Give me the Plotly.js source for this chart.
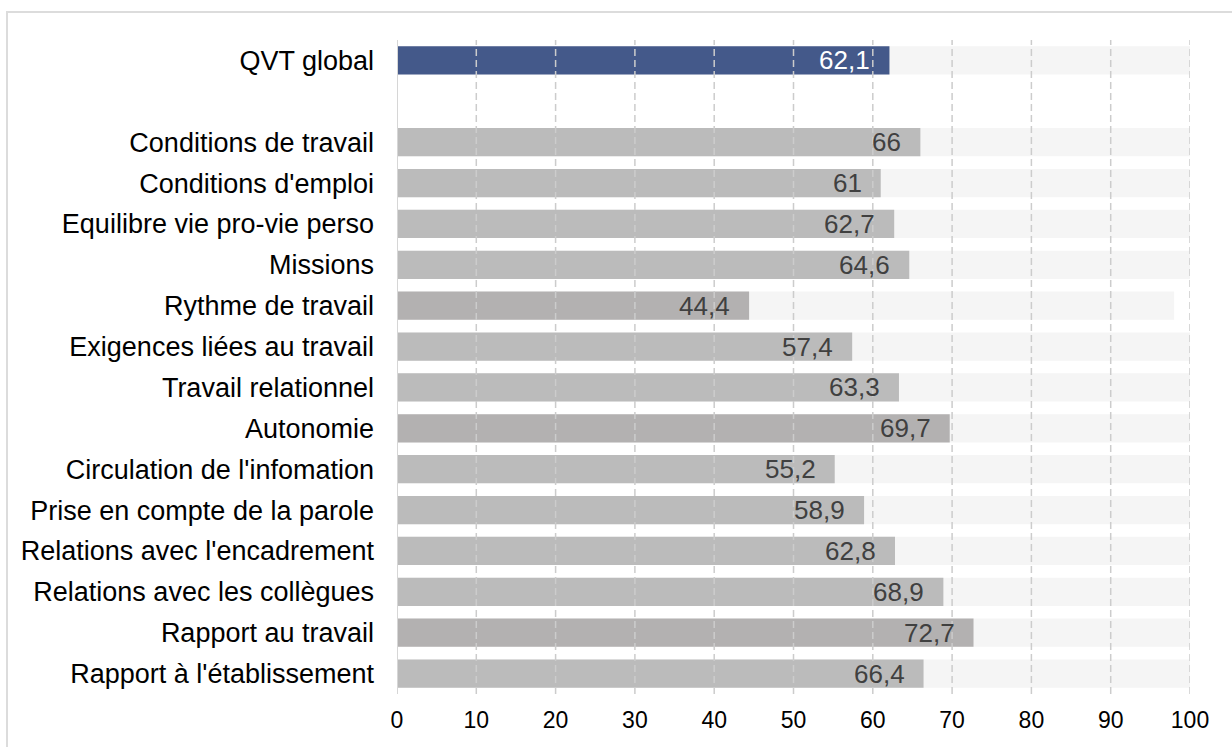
<!DOCTYPE html>
<html>
<head>
<meta charset="utf-8">
<script src="https://cdn.plot.ly/plotly-3.0.1.min.js"></script>
<style>
  html, body { margin: 0; padding: 0; background: #ffffff; }
  #frame { position: absolute; left: 6px; top: 11px; width: 1240px; height: 760px;
           border-left: 2px solid #dcdcdc; border-top: 2px solid #dcdcdc; box-sizing: border-box; }
  #chart { position: absolute; left: 0; top: 0; width: 1232px; height: 747px; }
</style>
</head>
<body>
<div id="frame"></div>
<div id="chart"></div>
<script>
// ---- Data ----
const categories = [
  "QVT global",
  "Conditions de travail",
  "Conditions d'emploi",
  "Equilibre vie pro-vie perso",
  "Missions",
  "Rythme de travail",
  "Exigences liées au travail",
  "Travail relationnel",
  "Autonomie",
  "Circulation de l'infomation",
  "Prise en compte de la parole",
  "Relations avec l'encadrement",
  "Relations avec les collègues",
  "Rapport au travail",
  "Rapport à l'établissement"
];
const scores = [62.1, 66, 61, 62.7, 64.6, 44.4, 57.4, 63.3, 69.7, 55.2, 58.9, 62.8, 68.9, 72.7, 66.4];
const backgroundMax = [100, 100, 100, 100, 100, 98, 100, 100, 100, 100, 100, 100, 100, 100, 100];
const tickValues = [0, 10, 20, 30, 40, 50, 60, 70, 80, 90, 100];

// ---- Styles ----
const barColors = ["#44598a", "#bbbbbb", "#bbbbbb", "#bbbbbb", "#bbbbbb", "#b3b1b1", "#bbbbbb",
                   "#bbbbbb", "#b3b1b1", "#bbbbbb", "#bbbbbb", "#bbbbbb", "#bbbbbb", "#b3b1b1", "#bbbbbb"];
const labelColors = categories.map((c, i) => i === 0 ? "#ffffff" : "#404040");
const FONT = "Liberation Sans, Arial, sans-serif";

// slots: first category, a blank gap, then the rest
const GAP = " ";
const slots = [categories[0], GAP].concat(categories.slice(1));

const bgTrace = {
  type: "bar", orientation: "h",
  y: categories, x: backgroundMax,
  marker: { color: "#f5f5f5" },
  width: 0.69, hoverinfo: "skip", showlegend: false
};
const mainTrace = {
  type: "bar", orientation: "h",
  y: categories, x: scores,
  marker: { color: barColors },
  width: 0.69, hoverinfo: "skip", showlegend: false
};

const annotations = categories.map((c, i) => ({
  x: scores[i], y: c, xref: "x", yref: "y",
  text: String(scores[i]).replace(".", ","),
  showarrow: false, xanchor: "right", yanchor: "middle", xshift: -17, yshift: 0,
  font: { family: FONT, size: 26, color: labelColors[i] }
}));

const shapes = tickValues.filter(v => v !== 0).map(v => ({
  type: "line", xref: "x", yref: "paper", x0: v, x1: v, y0: 0, y1: 1,
  line: { color: "#cccccc", width: 1.5, dash: "7px,4px" }, layer: "above"
}));
shapes.push({
  type: "line", xref: "x", yref: "paper", x0: 0, x1: 0, y0: 0, y1: 1,
  line: { color: "#d6d6d6", width: 2 }, layer: "above"
});

const layout = {
  width: 1232, height: 747,
  margin: { l: 397, r: 42, t: 40, b: 53, pad: 0 },
  paper_bgcolor: "rgba(0,0,0,0)", plot_bgcolor: "rgba(0,0,0,0)",
  barmode: "overlay",
  hovermode: false,
  font: { family: FONT, color: "#000000" },
  xaxis: {
    range: [0, 100], tickvals: tickValues, ticktext: tickValues.map(String),
    showgrid: false, zeroline: false, showline: false, ticks: "",
    tickfont: { family: FONT, size: 23, color: "#000000" },
    ticklabelstandoff: 10, fixedrange: true, cliponaxis: false
  },
  yaxis: {
    type: "category", categoryorder: "array", categoryarray: slots,
    tickvals: slots, ticktext: slots,
    range: [slots.length - 0.5, -0.5],
    showgrid: false, zeroline: false, showline: false, ticks: "",
    tickfont: { family: FONT, size: 27, color: "#000000" },
    ticklabelstandoff: 22, fixedrange: true
  },
  annotations: annotations,
  shapes: shapes
};

Plotly.newPlot("chart", [bgTrace, mainTrace], layout, { displayModeBar: false, staticPlot: true });
</script>
</body>
</html>
